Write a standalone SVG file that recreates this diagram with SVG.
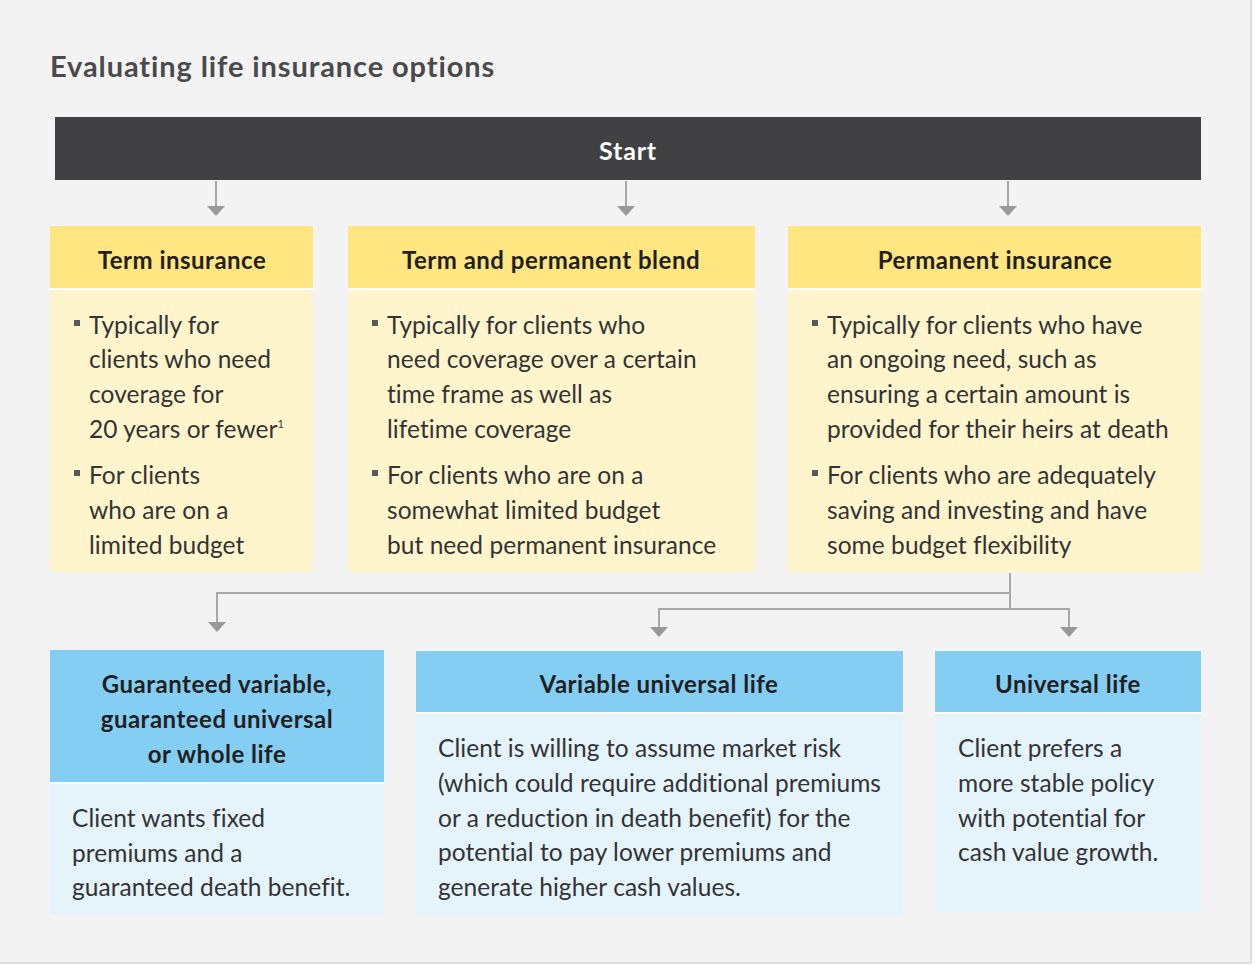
<svg xmlns="http://www.w3.org/2000/svg" width="1255" height="965" viewBox="0 0 1255 965">
<defs>
<style>
.title{font-family:Lato,"Liberation Sans",sans-serif;font-weight:700;font-size:29px;letter-spacing:0.9px;fill:#4a4a4c}
.hd{font-family:Lato,"Liberation Sans",sans-serif;font-weight:700;font-size:24px;letter-spacing:0.5px;fill:#231f20;text-anchor:middle}
.st{font-family:Lato,"Liberation Sans",sans-serif;font-weight:700;font-size:25px;letter-spacing:0.8px;fill:#ffffff;text-anchor:middle}
.bd{font-family:Lato,"Liberation Sans",sans-serif;font-size:24.5px;letter-spacing:0.05px;fill:#333335}
.sup{font-size:11px;letter-spacing:0}
.yh{fill:#ffe680}
.yb{fill:#fff5cc}
.bh{fill:#84cdf3}
.bb{fill:#e5f3fb}
.sep{fill:#ffffff}
.ln{stroke:#a7a8aa;stroke-width:2;fill:none}
.ah{fill:#98999b}
.bul{fill:#58595b}
</style>
</defs>
<rect x="0" y="0" width="1251" height="963" fill="#f2f3f2"/>
<line x1="1251" y1="0" x2="1251" y2="963" stroke="#dcdcdc" stroke-width="2"/>
<line x1="0" y1="963" x2="1251" y2="963" stroke="#dcdcdc" stroke-width="2"/>
<text class="title" x="50" y="77">Evaluating life insurance options</text>

<g id="start">
<rect x="55" y="117" width="1146" height="63" fill="#414143"/>
<text class="st" x="628" y="160">Start</text>
</g>

<g id="connectors">
<line class="ln" x1="216" y1="181" x2="216" y2="207"/>
<polygon class="ah" points="207,206 225,206 216,216"/>
<line class="ln" x1="626" y1="181" x2="626" y2="207"/>
<polygon class="ah" points="617,206 635,206 626,216"/>
<line class="ln" x1="1008" y1="181" x2="1008" y2="207"/>
<polygon class="ah" points="999,206 1017,206 1008,216"/>
<polyline class="ln" points="1010,573 1010,593 217,593 217,623"/>
<polygon class="ah" points="208,622 226,622 217,632"/>
<line class="ln" x1="1010" y1="593" x2="1010" y2="610"/>
<polyline class="ln" points="659,628 659,609 1069,609 1069,628"/>
<polygon class="ah" points="650,627 668,627 659,637"/>
<polygon class="ah" points="1060,627 1078,627 1069,637"/>
</g>

<g id="term">
<rect class="yh" x="50" y="226" width="263" height="62"/>
<rect class="sep" x="50" y="288" width="263" height="2"/>
<rect class="yb" x="50" y="290" width="263" height="282"/>
<text class="hd" x="182" y="269">Term insurance</text>
<rect class="bul" x="74" y="320" width="6" height="6"/>
<text class="bd" x="89" y="334">Typically for</text>
<text class="bd" x="89" y="368">clients who need</text>
<text class="bd" x="89" y="403">coverage for</text>
<text class="bd" x="89" y="438">20 years or fewer<tspan class="sup" dy="-10">1</tspan></text>
<rect class="bul" x="74" y="470" width="6" height="6"/>
<text class="bd" x="89" y="484">For clients</text>
<text class="bd" x="89" y="519">who are on a</text>
<text class="bd" x="89" y="554">limited budget</text>
</g>

<g id="blend">
<rect class="yh" x="348" y="226" width="407" height="62"/>
<rect class="sep" x="348" y="288" width="407" height="2"/>
<rect class="yb" x="348" y="290" width="407" height="282"/>
<text class="hd" x="551" y="269">Term and permanent blend</text>
<rect class="bul" x="372" y="320" width="6" height="6"/>
<text class="bd" x="387" y="334">Typically for clients who</text>
<text class="bd" x="387" y="368">need coverage over a certain</text>
<text class="bd" x="387" y="403">time frame as well as</text>
<text class="bd" x="387" y="438">lifetime coverage</text>
<rect class="bul" x="372" y="470" width="6" height="6"/>
<text class="bd" x="387" y="484">For clients who are on a</text>
<text class="bd" x="387" y="519">somewhat limited budget</text>
<text class="bd" x="387" y="554">but need permanent insurance</text>
</g>

<g id="permanent">
<rect class="yh" x="788" y="226" width="413" height="62"/>
<rect class="sep" x="788" y="288" width="413" height="2"/>
<rect class="yb" x="788" y="290" width="413" height="282"/>
<text class="hd" x="995" y="269">Permanent insurance</text>
<rect class="bul" x="812" y="320" width="6" height="6"/>
<text class="bd" x="827" y="334">Typically for clients who have</text>
<text class="bd" x="827" y="368">an ongoing need, such as</text>
<text class="bd" x="827" y="403">ensuring a certain amount is</text>
<text class="bd" x="827" y="438">provided for their heirs at death</text>
<rect class="bul" x="812" y="470" width="6" height="6"/>
<text class="bd" x="827" y="484">For clients who are adequately</text>
<text class="bd" x="827" y="519">saving and investing and have</text>
<text class="bd" x="827" y="554">some budget flexibility</text>
</g>

<g id="guaranteed">
<rect class="bh" x="50" y="650" width="334" height="132"/>
<rect class="sep" x="50" y="782" width="334" height="2"/>
<rect class="bb" x="50" y="784" width="334" height="131"/>
<text class="hd" x="217" y="693">Guaranteed variable,</text>
<text class="hd" x="217" y="728">guaranteed universal</text>
<text class="hd" x="217" y="763">or whole life</text>
<text class="bd" x="72" y="827">Client wants fixed</text>
<text class="bd" x="72" y="862">premiums and a</text>
<text class="bd" x="72" y="896">guaranteed death benefit.</text>
</g>

<g id="variable">
<rect class="bh" x="416" y="651" width="487" height="61"/>
<rect class="sep" x="416" y="712" width="487" height="2"/>
<rect class="bb" x="416" y="714" width="487" height="202"/>
<text class="hd" x="659" y="693">Variable universal life</text>
<text class="bd" x="438" y="757">Client is willing to assume market risk</text>
<text class="bd" x="438" y="792">(which could require additional premiums</text>
<text class="bd" x="438" y="827">or a reduction in death benefit) for the</text>
<text class="bd" x="438" y="861">potential to pay lower premiums and</text>
<text class="bd" x="438" y="896">generate higher cash values.</text>
</g>

<g id="universal">
<rect class="bh" x="935" y="651" width="266" height="61"/>
<rect class="sep" x="935" y="712" width="266" height="2"/>
<rect class="bb" x="935" y="714" width="266" height="198"/>
<text class="hd" x="1068" y="693">Universal life</text>
<text class="bd" x="958" y="757">Client prefers a</text>
<text class="bd" x="958" y="792">more stable policy</text>
<text class="bd" x="958" y="827">with potential for</text>
<text class="bd" x="958" y="861">cash value growth.</text>
</g>
</svg>
